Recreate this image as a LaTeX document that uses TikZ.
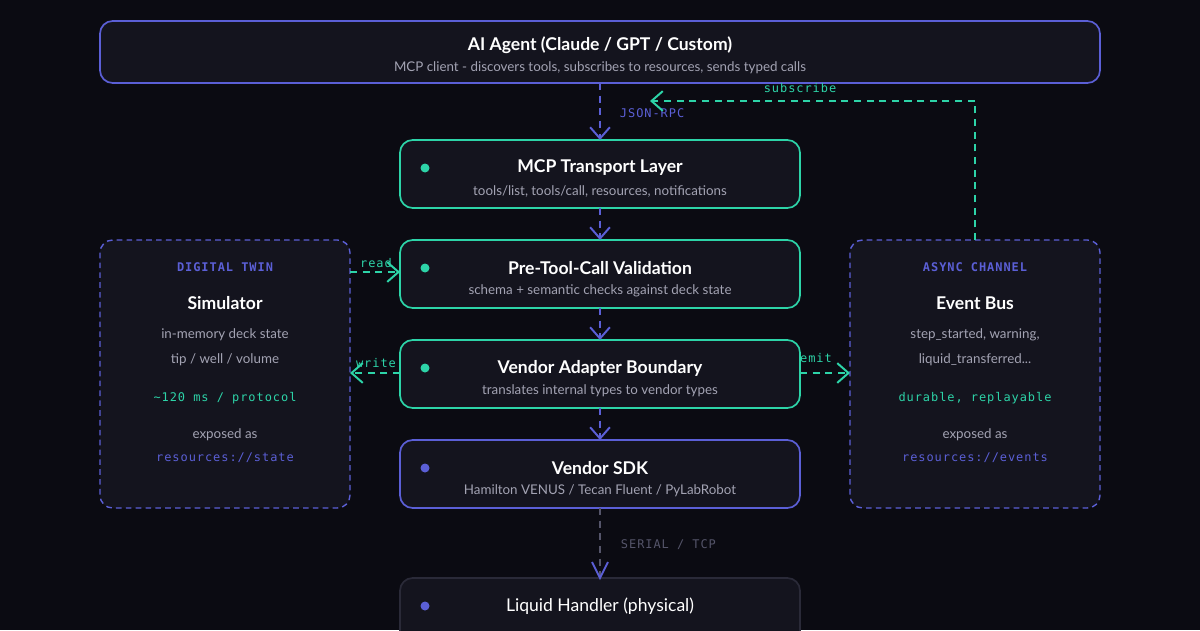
\documentclass[tikz,border=0pt]{standalone}
\usepackage{fontspec}
\setmainfont{Lato}
\setmonofont[LetterSpace=8]{DejaVu Sans Mono}
\usetikzlibrary{arrows.meta}
\definecolor{bgc}{HTML}{0B0B12}
\definecolor{boxc}{HTML}{14141E}
\definecolor{indc}{HTML}{5B5FD6}
\definecolor{tealc}{HTML}{2DD4A8}
\definecolor{subc}{HTML}{A3A3B3}
\definecolor{dimc}{HTML}{2A2A38}
\definecolor{linec}{HTML}{55556A}
\tikzset{
  card/.style={draw=#1,line width=1.2pt,fill=boxc,rounded corners=9pt},
  side/.style={draw=indc,line width=1pt,dash pattern=on 4pt off 3pt,fill=boxc,rounded corners=9pt},
  title/.style={text=white,font=\bfseries\fontsize{12.5}{14}\selectfont},
  sub/.style={text=subc,font=\fontsize{9.5}{11}\selectfont},
  code/.style={font=\ttfamily\fontsize{8.5}{10}\selectfont},
  flow/.style={draw=#1,line width=1.4pt,dash pattern=on 5pt off 4pt,-{Straight Barb[length=8pt,width=14pt,line width=1.4pt]}},
}
\begin{document}
\begin{tikzpicture}[x=0.025cm,y=-0.025cm]
\fill[bgc] (0,0) rectangle (1200,630);
\useasboundingbox (0,0) rectangle (1200,630);
% main cards
\draw[card=indc] (100,21) rectangle (1100,83);
\node[title] (agent) at (600,45) {AI Agent (Claude / GPT / Custom)};
\node[sub] at (600,68) {MCP client - discovers tools, subscribes to resources, sends typed calls};
\draw[card=tealc] (400,140) rectangle (800,208);
\draw[card=tealc] (400,240) rectangle (800,308);
\draw[card=tealc] (400,340) rectangle (800,408);
\draw[card=indc] (400,440) rectangle (800,508);
\draw[card=dimc] (400,578) rectangle (800,650);
\foreach \y/\c in {168/tealc,268/tealc,368/tealc,468/indc,606/indc}
  \fill[\c] (425,\y) circle (4.5);
\coordinate (trT) at (600,140); \coordinate (trB) at (600,208);
\coordinate (vaT) at (600,240); \coordinate (vaB) at (600,308);
\coordinate (adT) at (600,340); \coordinate (adB) at (600,408);
\coordinate (sdT) at (600,440); \coordinate (sdB) at (600,508);
\coordinate (lqT) at (600,578);
\coordinate (agB) at (600,83);
\node[title] at (600,168) {MCP Transport Layer};
\node[sub] at (600,191) {tools/list, tools/call, resources, notifications};
\node[title] at (600,268) {Pre-Tool-Call Validation};
\node[sub] at (600,291) {schema + semantic checks against deck state};
\node[title] at (600,368) {Vendor Adapter Boundary};
\node[sub] at (600,391) {translates internal types to vendor types};
\node[title] at (600,468) {Vendor SDK};
\node[sub] at (600,491) {Hamilton VENUS / Tecan Fluent / PyLabRobot};
\node[text=white,font=\fontsize{12.5}{14}\selectfont] at (600,606) {Liquid Handler (physical)};
% side panels
\draw[side] (100,240) rectangle (350,508);
\draw[side] (850,240) rectangle (1100,508);
\node[code,text=indc,font=\bfseries\ttfamily\fontsize{8.5}{11}\selectfont] at (225,267) {DIGITAL TWIN};
\node[title] at (225,303) {Simulator};
\node[sub] at (225,335) {in-memory deck state};
\node[sub] at (225,360) {tip / well / volume};
\node[code,text=tealc] at (225,398) {\textasciitilde120 ms / protocol};
\node[sub] at (225,435) {exposed as};
\node[code,text=indc] at (225,458) {resources://state};
\node[code,text=indc,font=\bfseries\ttfamily\fontsize{8.5}{11}\selectfont] at (975,267) {ASYNC CHANNEL};
\node[title] at (975,303) {Event Bus};
\node[sub] at (975,335) {step\_started, warning,};
\node[sub] at (975,360) {liquid\_transferred...};
\node[code,text=tealc] at (975,398) {durable, replayable};
\node[sub] at (975,435) {exposed as};
\node[code,text=indc] at (975,458) {resources://events};
% connectors
\draw[flow=indc] (agB) -- (trT);
\node[code,text=indc,anchor=west] at (615,113) {JSON-RPC};
\draw[flow=indc] (trB) -- (vaT);
\draw[flow=indc] (vaB) -- (adT);
\draw[flow=indc] (adB) -- (sdT);
\draw[linec,line width=1.4pt,dash pattern=on 5pt off 4pt] (sdB) -- (lqT);
\draw[indc,line width=1.4pt] (592,562) -- (600,578) -- (608,562);
\node[code,text=linec,anchor=west] at (616,545) {SERIAL / TCP};
\coordinate (twR1) at (350,272); \coordinate (vaL) at (400,272);
\coordinate (adL) at (400,373); \coordinate (twR2) at (350,373);
\coordinate (adR) at (800,373); \coordinate (evL) at (850,373);
\coordinate (evT) at (975,240); \coordinate (subK) at (975,101); \coordinate (subE) at (650,101);
\draw[flow=tealc] (twR1) -- (vaL);
\node[code,text=tealc] at (376,263) {read};
\draw[flow=tealc] (adL) -- (twR2);
\node[code,text=tealc] at (376,363) {write};
\draw[flow=tealc] (adR) -- (evL);
\node[code,text=tealc] at (816,358) {emit};
\draw[flow=tealc] (evT) -- (subK) -- (subE);
\node[code,text=tealc] at (800,88) {subscribe};
\end{tikzpicture}
\end{document}
